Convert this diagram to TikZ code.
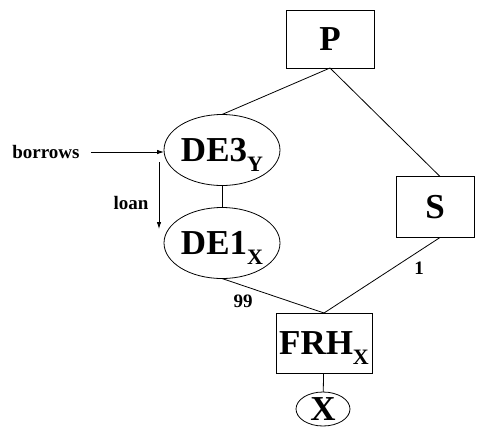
\documentclass[tikz,border=0pt]{standalone}
\usepackage{fontspec}
\setmainfont{Liberation Serif}
\usepackage{tkz-graph}
\usetikzlibrary{shapes.geometric}
\usetikzlibrary{arrows.meta}

\newcommand{\lowsub}[1]{\raisebox{-10pt}[0pt][0pt]{\fontsize{22}{22}\selectfont #1}}

\begin{document}
\begin{tikzpicture}[x=1pt,y=-1pt]
		\useasboundingbox (0,0) rectangle (479,429);

		\tikzset{VertexStyle/.style = {draw, shape = rectangle, line width = 0.8pt, inner sep = 0pt, font = \fontsize{35}{35}\selectfont\bfseries}}
		\Vertex[x=330,y=39,L=P,style={minimum width=88pt,minimum height=58pt}]{P}
		\Vertex[x=435,y=207,L=S,style={minimum width=78pt,minimum height=61pt}]{S}
		\Vertex[x=324,y=343,L=FRH\lowsub{X},style={minimum width=96pt,minimum height=60pt}]{FRH}

		\tikzset{VertexStyle/.style = {draw, shape = ellipse, line width = 0.8pt, inner sep = 0pt, font = \fontsize{35}{35}\selectfont\bfseries}}
		\Vertex[x=222,y=150,L=DE3\lowsub{Y},style={minimum width=113pt,minimum height=71pt}]{DE3}
		\Vertex[x=222,y=243,L=DE1\lowsub{X},style={minimum width=113pt,minimum height=71pt}]{DE1}
		\Vertex[x=323,y=409,L=X,style={minimum width=54pt,minimum height=34pt,font=\fontsize{25}{25}\selectfont\bfseries}]{X}

		\tikzset{>={Latex[length=7pt,width=4.5pt]}} % filled arrowheads
		\tikzset{EdgeStyle/.style = {line width = 0.8pt}}
		\tikzset{LabelStyle/.style = {inner sep = 0pt, font = \fontsize{19}{19}\selectfont\bfseries}}

		\draw[EdgeStyle] (P.south) -- (DE3.north);
		\draw[EdgeStyle] (P.south) -- ([xshift=5pt]S.north);
		\draw[EdgeStyle] (DE3) -- (DE1);
		\draw[EdgeStyle] (DE1.south) -- (FRH.north);
		\draw[EdgeStyle] ([xshift=5pt]S.south) -- (FRH.north);
		\draw[EdgeStyle] (FRH) -- (X);

		\node[LabelStyle] (borrows) at (46,152) {borrows};
		\draw[EdgeStyle, ->, shorten <= 11pt] (borrows.east) -- (DE3.west |- borrows.east);

		\coordinate (loanTop) at (159,162);
		\coordinate (loanEnd) at (159,229);
		\draw[EdgeStyle, ->] (loanTop) -- (loanEnd);
		\node[LabelStyle] (loan) at (131,203) {loan};

		\node[LabelStyle] (w99) at (243,301) {99};
		\node[LabelStyle] (w1) at (419,268) {1};
\end{tikzpicture}
\end{document}
